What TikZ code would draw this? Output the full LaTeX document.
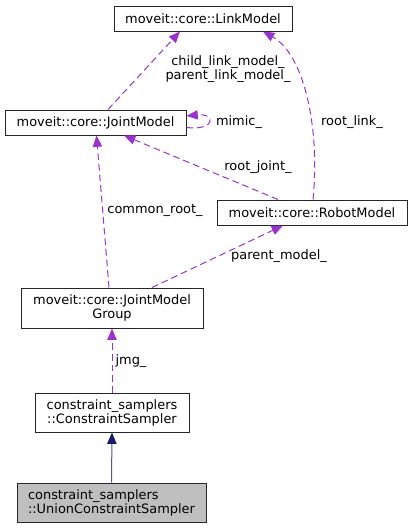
\documentclass[tikz,border=0pt]{standalone}
\usepackage{fontspec}
\setmainfont{DejaVu Sans}
\usetikzlibrary{arrows.meta}
\definecolor{usecol}{HTML}{9A32CD}
\definecolor{inhcol}{HTML}{191970}
\begin{document}
\begin{tikzpicture}[x=0.75pt,y=-0.75pt,
  every node/.style={font=\fontsize{9.7}{10.5}\selectfont, inner sep=0pt},
  cls/.style={draw=black!85, line width=0.75pt, fill=white, align=center},
  usage/.style={draw=usecol, line width=0.75pt, dash pattern=on 5pt off 3pt,
    -{Triangle[length=8.5pt,width=7pt]}, color=usecol},
  inherit/.style={draw=inhcol!75, line width=0.75pt, -{Triangle[length=8.5pt,width=7pt,color=inhcol]}},
  lbl/.style={align=center, text=black}]
\useasboundingbox (0,0) rectangle (413,529);
\node[cls, minimum width=133.5pt, minimum height=18.75pt] (lm) at (203,18.5) {moveit::core::LinkModel};
\node[cls, minimum width=135.75pt, minimum height=18.75pt] (jm) at (95.5,122.5) {moveit::core::JointModel};
\node[cls, minimum width=142.5pt, minimum height=18.75pt] (rm) at (312,212.5) {moveit::core::RobotModel};
\node[cls, minimum width=136.5pt, minimum height=30pt] (jmg) at (112,308) {moveit::core::JointModel\\Group};
\node[cls, minimum width=115.5pt, minimum height=29.25pt] (cs) at (112,412.5) {constraint\_samplers\\::ConstraintSampler};
\node[cls, fill=black!25, minimum width=141.75pt, minimum height=29.25pt, align=left] (ucs) at (111.5,502.5) {constraint\_samplers\\::UnionConstraintSampler};

% edges
\draw[usage] ([xshift=9.4pt]jm.north) -- ([xshift=-17.25pt]lm.south);
\node[lbl] (l1) at (228,69) {child\_link\_model\_\\parent\_link\_model\_};

\draw[usage] ([xshift=0.75pt]rm.north) .. controls (320,130) and (305,55) .. ([xshift=45pt]lm.south);
\node[lbl] (l2) at (352,122) {root\_link\_};

\draw[usage] ([yshift=-3.75pt]jm.east) .. controls (216,131) and (216,113) .. ([yshift=4.9pt]jm.east);
\node[lbl] (l3) at (239,122) {mimic\_};

\draw[usage] ([xshift=-25.5pt]rm.north) -- ([xshift=21.4pt]jm.south);
\node[lbl] (l4) at (258,167) {root\_joint\_};

\draw[usage] ([xshift=-2.25pt]jmg.north) -- ([xshift=0.75pt]jm.south);
\node[lbl] (l5) at (155,210) {common\_root\_};

\draw[usage] ([xshift=30pt]jmg.north) -- ([xshift=-21.75pt]rm.south);
\node[lbl] (l6) at (279,256) {parent\_model\_};

\draw[usage] (cs.north) -- (jmg.south);
\node[lbl] (l7) at (131,361) {jmg\_};

\draw[inherit] (ucs.north) -- (cs.south);
\end{tikzpicture}
\end{document}
